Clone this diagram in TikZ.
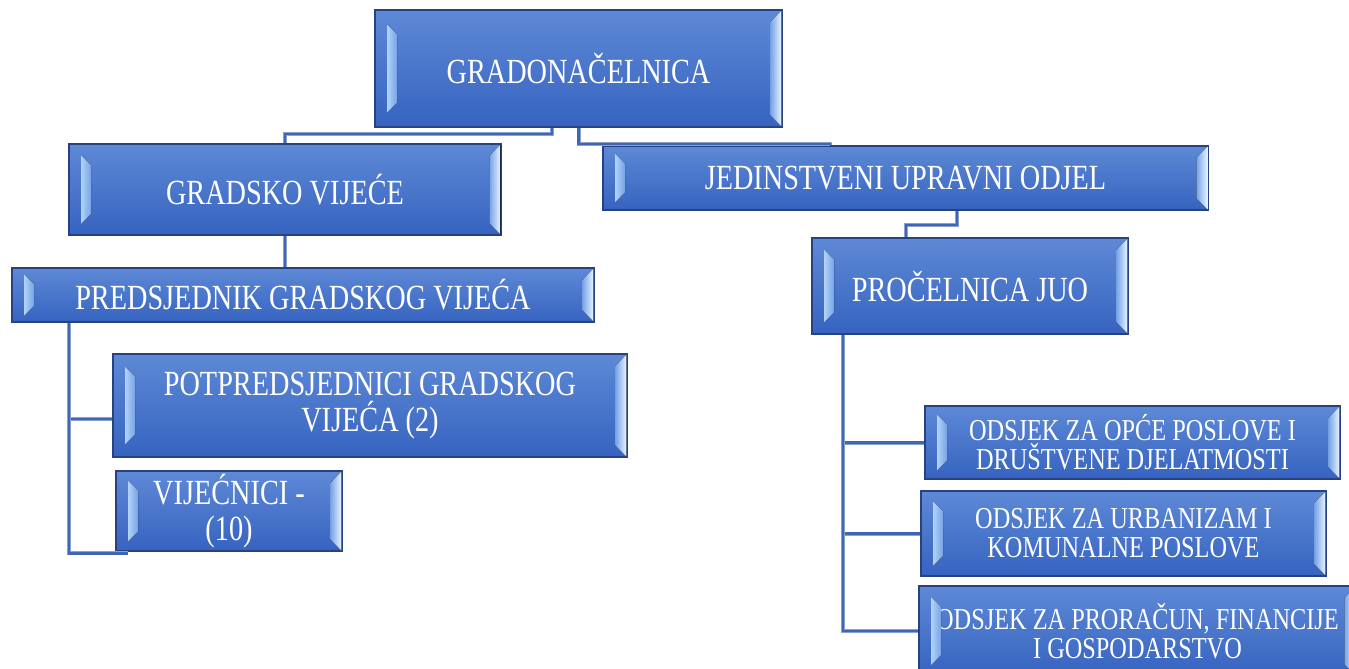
\documentclass[tikz,border=0pt]{standalone}
\usepackage{fontspec}
\setmainfont{Liberation Serif}[FakeStretch=0.8]
\usetikzlibrary{calc}

\definecolor{facetop}{RGB}{94,137,214}
\definecolor{facebot}{RGB}{54,99,192}
\definecolor{boxedge}{RGB}{38,66,128}
\definecolor{bevhi}{RGB}{232,244,255}
\definecolor{bevmid}{RGB}{176,210,248}
\definecolor{bevlo}{RGB}{118,162,230}
\definecolor{linkblue}{RGB}{62,102,182}
\definecolor{linkedge}{RGB}{140,162,206}

\newcommand\bigtxt{\fontsize{26.5}{26.5}\selectfont}
\newcommand\smalltxt{\fontsize{22.8}{21.75}\selectfont}

\tikzset{every picture/.style={line width=0.75pt}}
\tikzset{
	orgbox/.style 2 args={draw=boxedge, line width=1.2pt, top color=facetop, bottom color=facebot, text=white, align=center, inner sep=0pt, minimum width=#1*0.75pt, minimum height=#2*0.75pt, font=\bigtxt},
	link/.style={draw=linkedge, double=linkblue, double distance=1.8pt, line width=0.6pt},
}

\begin{document}
\begin{tikzpicture}[x=0.75pt,y=0.75pt,yscale=-1,xscale=1]

		\useasboundingbox (0,0) rectangle (1349,668);
		\clip (0,0) rectangle (1349,668);

		% boxes
		\node[orgbox={407}{117}] (gradon) at (578.5,68.5) {GRADONAČELNICA};
		\node[orgbox={432}{91}] (vijece) at (285,189.5) {GRADSKO VIJEĆE};
		\node[orgbox={605}{64}] (juo) at (905.5,178) {JEDINSTVENI UPRAVNI ODJEL};
		\node[orgbox={582}{54}] (predsj) at (303,295) {PREDSJEDNIK GRADSKOG VIJEĆA};
		\node[orgbox={316}{96}] (procel) at (970,286) {PROČELNICA JUO};
		\node[orgbox={514}{103}] (potpred) at (370,405.5) {POTPREDSJEDNICI GRADSKOG\\VIJEĆA (2)};
		\node[orgbox={226}{80}] (vijecnici) at (229,511) {VIJEĆNICI -\\(10)};
		\node[orgbox={415}{73}, font=\smalltxt] (opce) at (1132.5,442.5) {ODSJEK ZA OPĆE POSLOVE I\\DRUŠTVENE DJELATMOSTI};
		\node[orgbox={405}{85}, font=\smalltxt] (urban) at (1123.5,533.5) {ODSJEK ZA URBANIZAM I\\KOMUNALNE POSLOVE};
		\node[orgbox={437}{90}, font=\smalltxt] (proracun) at (1137.5,631) {ODSJEK ZA PRORAČUN, FINANCIJE\\I GOSPODARSTVO};

		% bevels
		\foreach \n in {gradon,vijece,juo,predsj,procel,potpred,vijecnici,opce,urban,proracun}{
			\fill[left color=bevmid, right color=bevlo] ($(\n.north west)!0.13!(\n.south west)+(13,0)$) -- ++(10,10) -- ($(\n.south west)!0.13!(\n.north west)+(23,-10)$) -- ($(\n.south west)!0.13!(\n.north west)+(13,0)$) -- cycle;
			\fill[left color=bevlo, right color=bevhi] ($(\n.north east)+(-1.5,1.5)$) -- ++(-11,11) -- ($(\n.south east)+(-12.5,-12.5)$) -- ($(\n.south east)+(-1.5,-1.5)$) -- cycle;
		}

		% connectors
		\draw[link] ($(gradon.south)+(-26.5,0)$) -- ++(0,6) -| (vijece.north);
		\draw[link] (gradon.south) -- ++(0,16) -| ($(juo.north)+(-75.5,0)$);
		\draw[link] ($(juo.south)+(51.5,0)$) -- ++(0,14) -| ($(procel.north)+(-64,0)$);
		\draw[link] (vijece.south) -- (vijece.south |- predsj.north);
		\draw[link] ($(predsj.south west)+(58,0)$) |- ($(potpred.west)+(0,13.5)$);
		\draw[link] ($(predsj.south west)+(58,0)$) |- ($(vijecnici.south west)+(13,1.5)$);
		\foreach \k in {opce,urban,proracun}
			\draw[link] ($(procel.south west)+(32,0)$) |- (\k.west);

	\end{tikzpicture}
\end{document}
